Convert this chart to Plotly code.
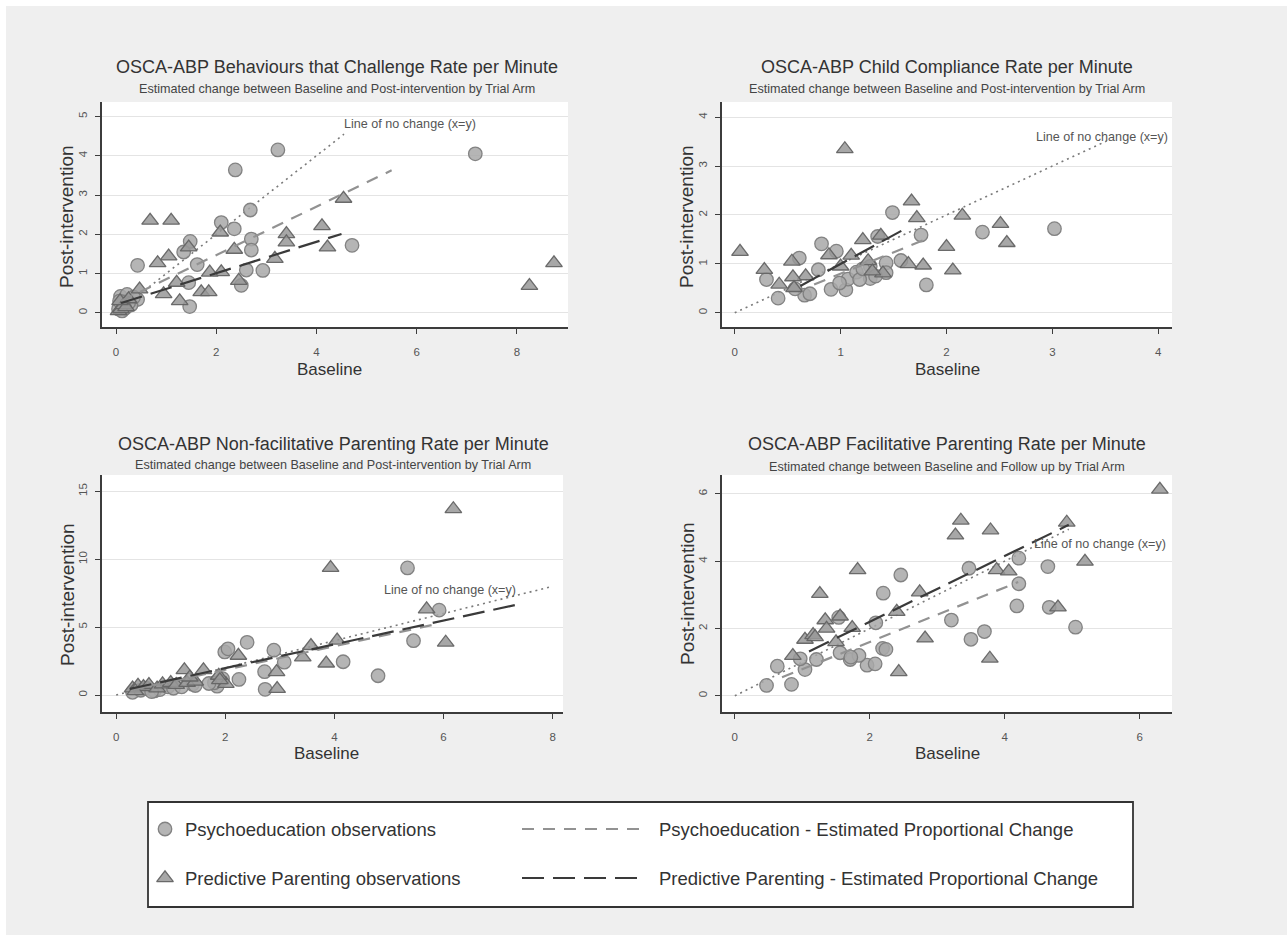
import plotly.graph_objects as go

W, H = 1287, 935
OFF = 0  # page offset of the figure in the screenshot (body margin removed below)

# ---------------- DATA ----------------
titles = [
    "OSCA-ABP Behaviours that Challenge Rate per Minute",
    "OSCA-ABP Child Compliance Rate per Minute",
    "OSCA-ABP Non-facilitative Parenting Rate per Minute",
    "OSCA-ABP Facilitative Parenting Rate per Minute",
]
subtitles = [
    "Estimated change between Baseline and Post-intervention by Trial Arm",
    "Estimated change between Baseline and Post-intervention by Trial Arm",
    "Estimated change between Baseline and Post-intervention by Trial Arm",
    "Estimated change between Baseline and Follow up by Trial Arm",
]
x_title = "Baseline"
y_title = "Post-intervention"
noline_label = "Line of no change (x=y)"
legend_labels = [
    "Psychoeducation observations",
    "Predictive Parenting observations",
    "Psychoeducation - Estimated Proportional Change",
    "Predictive Parenting - Estimated Proportional Change",
]

# Panel 1: Behaviours that Challenge
p1_psy_x = [3.23, 7.17, 2.38, 2.68, 2.10, 2.36, 2.70, 1.48, 4.71, 2.70, 1.35, 0.43, 1.62, 2.60, 2.93,
            2.50, 1.45, 1.47, 0.09, 0.22, 0.43, 0.15, 0.30, 0.05, 0.35, 0.12, 0.25, 0.18, 0.07]
p1_psy_y = [4.15, 4.05, 3.64, 2.62, 2.30, 2.14, 1.88, 1.82, 1.72, 1.60, 1.55, 1.21, 1.23, 1.09, 1.08,
            0.70, 0.77, 0.16, 0.42, 0.47, 0.34, 0.28, 0.20, 0.10, 0.40, 0.05, 0.25, 0.12, 0.30]
p1_pp_x = [8.74, 8.25, 4.54, 4.11, 4.22, 3.40, 3.40, 3.17, 2.08, 2.36, 2.10, 1.87, 2.45, 0.68, 1.10,
           1.05, 0.83, 1.45, 1.70, 1.85, 0.95, 1.27, 1.21, 0.47, 0.05, 0.10, 0.15, 0.20, 0.08, 0.25]
p1_pp_y = [1.27, 0.69, 2.91, 2.21, 1.67, 2.01, 1.80, 1.38, 2.05, 1.61, 1.04, 1.03, 0.82, 2.35, 2.35,
           1.44, 1.27, 1.67, 0.53, 0.53, 0.48, 0.30, 0.77, 0.60, 0.05, 0.10, 0.20, 0.15, 0.30, 0.35]
p1_fit_psy_x, p1_fit_psy_y = [0.1, 5.5], [0.30, 3.63]
p1_fit_pp_x, p1_fit_pp_y = [0.1, 4.5], [0.25, 2.01]
p1_nochange = [0, 4.55]
p1_label_xy = (4.5, 4.8)

# Panel 2: Child Compliance
p2_psy_x = [3.02, 2.34, 1.49, 1.76, 1.81, 0.82, 0.96, 0.61, 0.79, 0.30, 0.41, 0.66, 0.71, 0.91, 1.05,
            1.07, 1.15, 1.28, 1.28, 1.43, 1.57, 1.43, 1.35, 0.57, 0.99, 1.18, 1.21, 1.33]
p2_psy_y = [1.72, 1.65, 2.05, 1.59, 0.57, 1.41, 1.26, 1.12, 0.88, 0.68, 0.30, 0.36, 0.39, 0.48, 0.47,
            0.69, 0.83, 0.70, 0.95, 1.02, 1.07, 0.82, 1.56, 0.49, 0.61, 0.68, 0.90, 0.75]
p2_pp_x = [1.04, 1.67, 1.72, 2.15, 2.51, 2.57, 2.00, 2.06, 1.78, 1.64, 0.05, 0.28, 1.21, 1.38, 0.89,
           0.54, 0.67, 0.55, 0.42, 1.40, 1.26, 1.10, 0.56, 1.00, 1.30]
p2_pp_y = [3.35, 2.28, 1.94, 1.99, 1.82, 1.43, 1.35, 0.87, 0.97, 1.00, 1.25, 0.88, 1.49, 1.58, 1.18,
           1.05, 0.75, 0.73, 0.58, 0.81, 1.06, 1.17, 0.51, 0.95, 0.85]
p2_fit_psy_x, p2_fit_psy_y = [0.75, 1.80], [0.58, 1.50]
p2_fit_pp_x, p2_fit_pp_y = [0.62, 1.62], [0.55, 1.73]
p2_nochange = [0, 3.55]
p2_label_xy = (2.83, 3.6)

# Panel 3: Non-facilitative Parenting
p3_psy_x = [5.34, 5.92, 5.45, 4.16, 4.80, 2.40, 1.99, 2.05, 2.89, 3.08, 2.73, 2.25, 2.72, 1.85, 0.30,
            0.45, 0.55, 0.70, 0.80, 0.95, 1.05, 1.40, 1.45, 1.80, 1.95, 1.70, 1.20, 0.65]
p3_psy_y = [9.36, 6.25, 4.00, 2.45, 1.42, 3.88, 3.17, 3.40, 3.30, 2.42, 0.42, 1.15, 1.72, 0.65, 0.20,
            0.35, 0.50, 0.30, 0.40, 0.60, 0.50, 0.80, 0.70, 0.90, 1.20, 0.85, 0.60, 0.25]
p3_pp_x = [6.18, 3.93, 5.69, 6.04, 4.05, 3.85, 3.57, 3.42, 2.24, 2.94, 2.95, 1.25, 1.60, 2.01, 1.88,
           0.30, 0.40, 0.50, 0.60, 0.75, 0.85, 1.00, 1.10, 1.30, 1.45, 1.90, 1.35, 0.35]
p3_pp_y = [13.7, 9.37, 6.32, 3.87, 4.02, 2.33, 3.62, 2.78, 2.90, 1.70, 0.46, 1.84, 1.84, 0.83, 1.43,
           0.50, 0.70, 0.60, 0.75, 0.50, 0.80, 0.90, 0.75, 0.90, 1.00, 1.10, 1.30, 0.30]
p3_fit_psy_x, p3_fit_psy_y = [0.3, 5.9], [0.38, 5.25]
p3_fit_pp_x, p3_fit_pp_y = [0.25, 7.45], [0.45, 6.75]
p3_nochange = [0, 8.0]
p3_label_xy = (4.88, 7.7)

# Panel 4: Facilitative Parenting
p4_psy_x = [4.21, 4.21, 4.18, 4.64, 4.66, 5.05, 3.47, 2.46, 2.20, 3.21, 3.50, 3.70, 2.09, 2.19, 1.96,
            1.71, 1.56, 0.63, 0.47, 0.84, 1.04, 1.21, 1.54, 1.84, 2.08, 0.97, 1.72, 2.24]
p4_psy_y = [4.09, 3.33, 2.67, 3.84, 2.63, 2.04, 3.79, 3.59, 3.05, 2.25, 1.68, 1.91, 2.17, 1.41, 0.91,
            1.08, 1.28, 0.88, 0.31, 0.34, 0.78, 1.08, 2.33, 1.20, 0.95, 1.10, 1.15, 1.38]
p4_pp_x = [6.30, 3.35, 3.27, 3.79, 4.92, 5.19, 3.88, 4.06, 1.82, 1.26, 2.74, 2.40, 2.82, 3.78, 2.43,
           4.79, 1.04, 0.86, 1.34, 1.16, 1.56, 1.74, 1.19, 1.36, 1.50]
p4_pp_y = [6.13, 5.21, 4.77, 4.92, 5.15, 3.99, 3.74, 3.70, 3.74, 3.03, 3.08, 2.50, 1.71, 1.11, 0.71,
           2.63, 1.67, 1.19, 2.25, 1.81, 2.36, 2.02, 1.75, 2.00, 1.60]
p4_fit_psy_x, p4_fit_psy_y = [0.7, 4.2], [0.55, 3.38]
p4_fit_pp_x, p4_fit_pp_y = [1.1, 4.95], [1.32, 5.08]
p4_nochange = [0, 4.95]
p4_label_xy = (4.41, 4.5)

x_ticks = [[0, 2, 4, 6, 8], [0, 1, 2, 3, 4], [0, 2, 4, 6, 8], [0, 2, 4, 6]]
y_ticks = [[0, 1, 2, 3, 4, 5], [0, 1, 2, 3, 4], [0, 5, 10, 15], [0, 2, 4, 6]]
x_ranges = [[-0.28, 9.02], [-0.12, 4.13], [-0.26, 8.19], [-0.19, 6.48]]
y_ranges = [[-0.36, 5.37], [-0.29, 4.31], [-1.25, 16.2], [-0.48, 6.56]]

# ---------------- LAYOUT HELPERS (pixel boxes) ----------------
def fx(px):
    return (px - OFF) / W

def fy(py):
    return 1 - (py - OFF) / H

boxes = [(102, 568, 102, 327), (722, 1172, 102, 327), (102, 563, 475, 712), (722, 1172, 475, 712)]
title_pos = [(337, 67, 89), (947, 67, 89), (333, 444, 465), (947, 444, 467)]
xtitle_pos = [(330, 369), (947, 369), (326, 753), (947, 753)]
ytitle_pos = [(67, 217), (687, 217), (67, 595), (687, 594)]

FONT = "Liberation Sans, Arial, sans-serif"
PSY_FILL = "rgba(168,168,168,0.85)"
PSY_LINE = "rgba(125,125,125,0.95)"
PP_FILL = "rgba(152,152,152,0.85)"
PP_LINE = "rgba(100,100,100,0.95)"
PSY_FIT = "#929292"
PP_FIT = "#3a3a3a"

fig = go.Figure()

panels = [
    (p1_psy_x, p1_psy_y, p1_pp_x, p1_pp_y, p1_fit_psy_x, p1_fit_psy_y, p1_fit_pp_x, p1_fit_pp_y, p1_nochange, p1_label_xy),
    (p2_psy_x, p2_psy_y, p2_pp_x, p2_pp_y, p2_fit_psy_x, p2_fit_psy_y, p2_fit_pp_x, p2_fit_pp_y, p2_nochange, p2_label_xy),
    (p3_psy_x, p3_psy_y, p3_pp_x, p3_pp_y, p3_fit_psy_x, p3_fit_psy_y, p3_fit_pp_x, p3_fit_pp_y, p3_nochange, p3_label_xy),
    (p4_psy_x, p4_psy_y, p4_pp_x, p4_pp_y, p4_fit_psy_x, p4_fit_psy_y, p4_fit_pp_x, p4_fit_pp_y, p4_nochange, p4_label_xy),
]

annotations = []
shapes = []
# white strips at the top and left edges of the page
shapes.append(dict(type="rect", xref="paper", yref="paper", x0=0, x1=1, y0=fy(6), y1=1,
                   fillcolor="white", line=dict(width=0), layer="below"))
shapes.append(dict(type="rect", xref="paper", yref="paper", x0=0, x1=fx(6), y0=0, y1=1,
                   fillcolor="white", line=dict(width=0), layer="below"))

for i, (px_, py_, tx, ty, fpx, fpy, ftx, fty, nc, lab) in enumerate(panels):
    n = i + 1
    xa = "x" if n == 1 else f"x{n}"
    ya = "y" if n == 1 else f"y{n}"
    fig.add_trace(go.Scatter(x=nc, y=nc, mode="lines", xaxis=xa, yaxis=ya, showlegend=False,
                             line=dict(color="#7a7a7a", width=1.6, dash="2px,4px"), hoverinfo="skip"))
    fig.add_trace(go.Scatter(x=px_, y=py_, mode="markers", xaxis=xa, yaxis=ya, showlegend=False,
                             marker=dict(symbol="circle", size=13.5, color=PSY_FILL,
                                         line=dict(color=PSY_LINE, width=1.3))))
    fig.add_trace(go.Scatter(x=tx, y=ty, mode="markers", xaxis=xa, yaxis=ya, showlegend=False,
                             marker=dict(symbol="triangle-up", size=14.5, color=PP_FILL,
                                         line=dict(color=PP_LINE, width=1.3))))
    fig.add_trace(go.Scatter(x=fpx, y=fpy, mode="lines", xaxis=xa, yaxis=ya, showlegend=False,
                             line=dict(color=PSY_FIT, width=2.2, dash="12px,9px")))
    fig.add_trace(go.Scatter(x=ftx, y=fty, mode="lines", xaxis=xa, yaxis=ya, showlegend=False,
                             line=dict(color=PP_FIT, width=2.2, dash="22px,9px")))

    x0, x1, y0, y1 = boxes[i]
    axis_common = dict(showline=True, linecolor="#3c3c3c", linewidth=1.5, ticks="outside", ticklen=5,
                       tickcolor="#3c3c3c", tickwidth=1.2, zeroline=False, mirror=False,
                       tickfont=dict(family=FONT, size=11.5, color="#555"))
    fig.update_layout(**{
        ("xaxis" if n == 1 else f"xaxis{n}"): dict(domain=[fx(x0), fx(x1)], range=x_ranges[i],
                                                 anchor=ya, tickvals=x_ticks[i], showgrid=False,
                                                 ticklabelstandoff=8, **axis_common),
        ("yaxis" if n == 1 else f"yaxis{n}"): dict(domain=[fy(y1), fy(y0)], range=y_ranges[i],
                                                 anchor=xa, tickvals=y_ticks[i], showgrid=True,
                                                 gridcolor="#e4e4e4", gridwidth=1.3, tickangle=-90,
                                                 ticklabelstandoff=4, **axis_common),
    })
    shapes.append(dict(type="rect", xref="paper", yref="paper", x0=fx(x0), x1=fx(x1), y0=fy(y1), y1=fy(y0),
                       fillcolor="white", line=dict(width=0), layer="below"))
    tx_, tty, tsy = title_pos[i]
    annotations.append(dict(text=titles[i], xref="paper", yref="paper", x=fx(tx_), y=fy(tty),
                            showarrow=False, xanchor="center", yanchor="middle",
                            font=dict(family=FONT, size=18, color="#333")))
    annotations.append(dict(text=subtitles[i], xref="paper", yref="paper", x=fx(tx_), y=fy(tsy),
                            showarrow=False, xanchor="center", yanchor="middle",
                            font=dict(family=FONT, size=12.6, color="#444")))
    annotations.append(dict(text=x_title, xref="paper", yref="paper", x=fx(xtitle_pos[i][0]), y=fy(xtitle_pos[i][1]),
                            showarrow=False, xanchor="center", yanchor="middle",
                            font=dict(family=FONT, size=17, color="#333")))
    annotations.append(dict(text=y_title, xref="paper", yref="paper", x=fx(ytitle_pos[i][0]), y=fy(ytitle_pos[i][1]),
                            showarrow=False, xanchor="center", yanchor="middle", textangle=-90,
                            font=dict(family=FONT, size=19, color="#333")))
    annotations.append(dict(text=noline_label, xref=xa, yref=ya, x=lab[0], y=lab[1],
                            showarrow=False, xanchor="left", yanchor="middle",
                            font=dict(family=FONT, size=12.6, color="#555")))

# ---------------- LEGEND (drawn manually) ----------------
shapes.append(dict(type="rect", xref="paper", yref="paper", x0=fx(148), x1=fx(1133), y0=fy(907), y1=fy(802),
                   fillcolor="white", line=dict(color="#333", width=1.8), layer="below"))
shapes.append(dict(type="line", xref="paper", yref="paper", x0=fx(522), x1=fx(645), y0=fy(829), y1=fy(829),
                   line=dict(color=PSY_FIT, width=2.2, dash="12px,9px")))
shapes.append(dict(type="line", xref="paper", yref="paper", x0=fx(522), x1=fx(645), y0=fy(878), y1=fy(878),
                   line=dict(color=PP_FIT, width=2.2, dash="22px,9px")))
leg_text_pos = [(183, 829), (183, 878), (657, 829), (657, 878)]
for lbl, (lx, ly) in zip(legend_labels, leg_text_pos):
    annotations.append(dict(text=lbl, xref="paper", yref="paper", x=fx(lx), y=fy(ly), showarrow=False,
                            xanchor="left", yanchor="middle", font=dict(family=FONT, size=18.5, color="#333")))

fig.add_trace(go.Scatter(x=[165 - OFF], y=[829 - OFF], mode="markers", xaxis="x5", yaxis="y5", showlegend=False,
                         marker=dict(symbol="circle", size=13.5, color=PSY_FILL, line=dict(color=PSY_LINE, width=1.3))))
fig.add_trace(go.Scatter(x=[165 - OFF], y=[878 - OFF], mode="markers", xaxis="x5", yaxis="y5", showlegend=False,
                         marker=dict(symbol="triangle-up", size=14.5, color=PP_FILL, line=dict(color=PP_LINE, width=1.3))))
fig.update_layout(
    xaxis5=dict(domain=[0, 1], range=[0, W], visible=False, anchor="y5"),
    yaxis5=dict(domain=[0, 1], range=[H, 0], visible=False, anchor="x5"),
)

fig.update_layout(
    width=W, height=H, margin=dict(l=0, r=0, t=0, b=0),
    paper_bgcolor="#efefef", plot_bgcolor="rgba(0,0,0,0)",
    showlegend=False, shapes=shapes, annotations=annotations,
    font=dict(family=FONT),
)

fig.write_html("out.html", config={"displayModeBar": False},
               post_script="document.body.style.margin='0px';document.body.style.overflow='hidden';")
